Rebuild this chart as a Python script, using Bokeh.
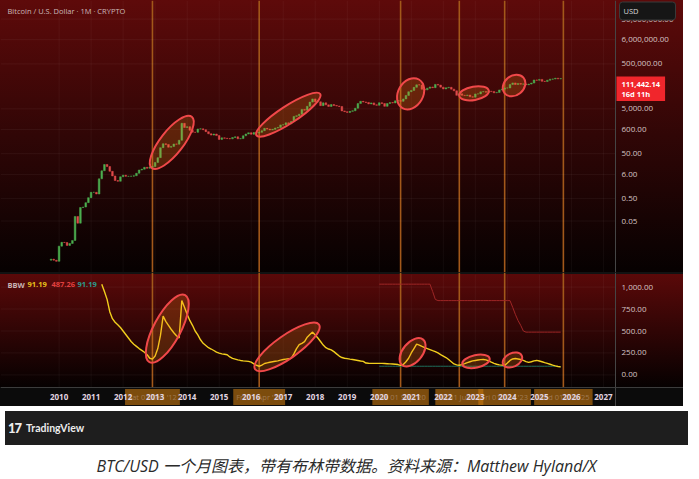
import numpy as np
import pandas as pd
from bokeh.plotting import figure
from bokeh.layouts import column
from bokeh.models import ColumnDataSource, Range1d, Span, Label, Div
from bokeh.core.properties import value
from bokeh.embed import file_html
from bokeh.resources import INLINE

# ---------------- data ----------------
first_month = "2009-10-01"
first_open = 0.0009
closes = [
    0.0010, 0.0009, 0.0008,
    0.0038, 0.0056, 0.0055, 0.0041, 0.0050, 0.0068, 0.080, 0.040, 0.20, 0.21, 0.33, 0.55,
    0.95, 0.95, 0.80, 3.8, 8.7, 16.5, 13.4, 8.2, 5.1, 3.2, 2.95, 4.7,
    5.5, 4.9, 4.9, 5.0, 5.2, 6.7, 9.4, 10.2, 12.4, 11.2, 12.6, 13.5,
    20.4, 33.4, 93, 139, 129, 97, 106, 135, 133, 198, 1130, 732,
    800, 550, 450, 447, 630, 640, 586, 480, 387, 338, 378, 320,
    217, 254, 244, 236, 230, 263, 284, 230, 236, 314, 377, 430,
    368, 437, 416, 448, 531, 673, 624, 575, 609, 700, 742, 963,
    970, 1190, 1080, 1350, 2300, 2480, 2875, 4700, 4340, 6470, 9950, 13860,
    10220, 10330, 6930, 9240, 7500, 6400, 7730, 7030, 6630, 6370, 4040, 3740,
    3460, 3850, 4100, 5320, 8570, 10820, 10080, 9630, 8290, 9200, 7570, 7190,
    9350, 8600, 6440, 8660, 9460, 9140, 11350, 11680, 10780, 13800, 19700, 28990,
    33100, 45200, 58800, 57800, 37300, 35000, 41500, 47100, 43800, 61300, 57000, 46300,
    38500, 43200, 45500, 37700, 31800, 19900, 23300, 20050, 19400, 20500, 17200, 16550,
    23100, 23150, 28480, 29250, 27220, 30480, 29230, 25940, 26970, 34650, 37720, 42270,
    42580, 61130, 71330, 60640, 67490, 62680, 64620, 58970, 63330, 70220, 96450, 93430,
    102400, 84350, 82550, 94200, 104600, 107100, 115700, 108200, 111442.14,
]

bbw_start = "2011-05-01"
bbw = [
    1033, 950, 860, 720, 640, 600, 571, 540, 500, 460, 420, 380,
    350, 325, 300, 280, 258, 230, 190, 180, 215, 300, 450, 670,
    610, 565, 520, 480, 445, 420, 846, 770, 690, 620, 565, 500,
    455, 400, 360, 335, 310, 295, 278, 260, 248, 240, 235, 230,
    205, 188, 180, 172, 165, 160, 157, 154, 145, 125, 110, 99,
    112, 130, 138, 145, 150, 155, 160, 168, 176, 180, 184, 188,
    240, 300, 345, 360, 380, 430, 460, 487.26, 455, 420, 380, 340,
    310, 295, 285, 265, 240, 215, 198, 190, 185, 180, 176, 170,
    164, 158, 154, 135, 133, 132, 132, 132, 132, 131, 130, 128,
    126, 124, 122, 118, 108, 120, 150, 190, 250, 300, 350, 340,
    325, 312, 300, 288, 276, 265, 250, 232, 215, 198, 175, 150,
    125, 115, 110, 118, 128, 140, 150, 160, 165, 170, 174, 176,
    172, 160, 145, 132, 122, 115, 112, 108, 135, 165, 182, 187,
    182, 176, 165, 152, 143, 150, 160, 165, 158, 150, 140, 132,
    122, 112, 103, 96, 91.19,
]

band_start = "2020-01-01"
bbw_highest = [1033] * 20 + [950, 860] + [846] * 28 + [770, 690, 620, 565, 500] + [487.26] * 14
bbw_lowest = [99] * 67 + [96, 91.19]

squeeze_dates = ["2012-12-01", "2016-04-01", "2020-09-01", "2022-07-01", "2023-12-01", "2025-10-01"]

year_ticks = list(range(2010, 2028))
price_ticks = [0.05, 0.5, 6, 50, 600, 5000, 500000, 6000000, 50000000]
bbw_ticks = [0, 250, 500, 750, 1000]

last_price = 111442.14
countdown = "16d 11h"
legend_values = ["91.19", "487.26", "91.19"]

# highlight ellipses: centre (decimal year, value), size in px, tilt in degrees
price_marks_t = [2013.52, 2017.16, 2020.98, 2022.96, 2024.21]
price_marks_v = [160, 2750, 23400, 24600, 54700]
price_marks_w = [65, 76, 33, 30, 24.5]
price_marks_h = [23, 17.5, 25, 13.5, 19.5]
price_marks_a = [52, 33, 60, 10, 40]

bbw_marks_t = [2013.38, 2017.12, 2021.04, 2023.02, 2024.16]
bbw_marks_v = [527, 319, 258, 154, 170]
bbw_marks_w = [76, 78, 33, 28, 20.5]
bbw_marks_h = [27, 23, 19.5, 12.5, 13.5]
bbw_marks_a = [62, 35, 50, 12, 25]

# ---------------- geometry & styling ----------------
W = 683
AXIS_W = 68
TOP_H = 272
BOT_FRAME_H = 113
XAXIS_H = 19
SEP_H = 2
BOT_H = SEP_H + BOT_FRAME_H + XAXIS_H
FONT = "Open Sans"
LABEL_COL = "#d6c4c4"
UP = "#4caf50"
DOWN = "#e04b4b"
ORANGE_LINE = "#a2581a"
GRID_COL = "#ffffff"
SEP_COL = "#454545"

X_START, AXIS_X = 2008.171, 2027.378
PX_PER_YEAR = (W - AXIS_W) / (AXIS_X - X_START)
X_END = X_START + W / PX_PER_YEAR
X_RANGE = Range1d(X_START, X_END)

P_LO, P_HI = 2.54e-4, 3.36e8
BBW_LO, BBW_HI = -143.0, 1143.0
K = BOT_FRAME_H / (BBW_HI - BBW_LO)
B_BOTTOM = BBW_LO - XAXIS_H / K
B_TOP = BBW_HI + SEP_H / K
ROW_MID = BBW_LO - (XAXIS_H / 2) / K


def dec_year(idx):
    return np.asarray(idx.year + (idx.month - 1) / 12.0, dtype=float)


months = pd.date_range(first_month, periods=len(closes), freq="MS")
t = dec_year(months)
closes_a = np.array(closes, dtype=float)
opens_a = np.array([first_open] + closes[:-1], dtype=float)
candles = ColumnDataSource(dict(
    t=t,
    hi=np.maximum(opens_a, closes_a),
    lo=np.minimum(opens_a, closes_a),
    color=np.where(closes_a >= opens_a, UP, DOWN),
))

bbw_t = dec_year(pd.date_range(bbw_start, periods=len(bbw), freq="MS"))
band_t = dec_year(pd.date_range(band_start, periods=len(bbw_highest), freq="MS"))
sq_idx = pd.to_datetime(squeeze_dates)
sq_t = dec_year(sq_idx)
sq_text = [d.strftime("%a %d %b '%y") for d in sq_idx]


def fmt(v):
    return f"{v:,.2f}"


def base_fig(height, y_range, **kw):
    f = figure(width=W, height=height, x_range=X_RANGE, y_range=y_range,
               x_axis_location=None, y_axis_location=None,
               output_backend="svg", toolbar_location=None, min_border=0,
               background_fill_alpha=0, border_fill_alpha=0, outline_line_color=None, **kw)
    for g in f.grid:
        g.visible = False
    return f


# ---------------- top panel: price ----------------
top = base_fig(TOP_H, Range1d(P_LO, P_HI), y_axis_type="log")
top.styles = {"background": "linear-gradient(180deg, #5e0a0a 0%, #300606 50%, #060101 100%)"}

top.segment(x0=X_START, x1=AXIS_X, y0=price_ticks, y1=price_ticks,
            line_color=GRID_COL, line_alpha=0.05, line_width=1)
top.segment(x0=year_ticks, x1=year_ticks, y0=P_LO, y1=P_HI,
            line_color=GRID_COL, line_alpha=0.045, line_width=1)
for ts in sq_t:
    top.add_layout(Span(location=ts, dimension="height", line_color=ORANGE_LINE,
                        line_width=1.6, level="underlay"))
top.add_layout(Span(location=AXIS_X, dimension="height", line_color=SEP_COL, line_width=1))

top.vbar(x="t", width=0.052, top="hi", bottom="lo", fill_color="color",
         line_color="color", line_width=0.5, source=candles)

top.ellipse(x=price_marks_t, y=price_marks_v, width=price_marks_w, height=price_marks_h,
            angle=price_marks_a, angle_units="deg", width_units="screen", height_units="screen",
            fill_color="#ff8a1a", fill_alpha=0.22, line_color="#f0484a", line_width=2)

top.text(x=AXIS_X, y=price_ticks, text=[fmt(v) for v in price_ticks], x_offset=6,
         text_align="left", text_baseline="middle", text_font=value(FONT),
         text_font_size="8px", text_color=LABEL_COL)

top.add_layout(Label(x=7, y=TOP_H - 10, x_units="screen", y_units="screen",
                     text="Bitcoin / U.S. Dollar · 1M · CRYPTO", text_font=FONT,
                     text_font_size="7.5px", text_color="#cbb8b8", text_baseline="middle"))
top.add_layout(Label(x=AXIS_X, x_offset=4, y=TOP_H - 10.5, x_units="data", y_units="screen",
                     text="USD", text_font=FONT, text_font_size="7.5px", text_color="#d8d8d8",
                     text_baseline="middle", background_fill_color="#161616",
                     border_line_color="#3a3a3a", border_radius=3,
                     padding=dict(left=4, right=37, top=4, bottom=4)))
top.add_layout(Label(x=AXIS_X, x_offset=1, y=last_price, y_offset=2, x_units="data",
                     y_units="data", text=f"{fmt(last_price)}\n{countdown}", text_font=FONT,
                     text_font_size="7.5px", text_font_style="bold", text_color="#ffffff",
                     text_baseline="top", text_align="left", text_line_height=1.05,
                     background_fill_color="#f0262c",
                     padding=dict(left=5, right=5, top=2, bottom=2)))

# ---------------- lower panel: Bollinger Band Width ----------------
bot = base_fig(BOT_H, Range1d(B_BOTTOM, B_TOP))
fb = SEP_H + BOT_FRAME_H
bot.styles = {"background": (
    f"linear-gradient(180deg, #121212 0px, #121212 {SEP_H}px, #5a0909 {SEP_H}px, "
    f"#060101 {fb}px, #0b0b0b {fb}px, #0b0b0b 100%)")}

bot.segment(x0=X_START, x1=AXIS_X, y0=bbw_ticks, y1=bbw_ticks,
            line_color=GRID_COL, line_alpha=0.05, line_width=1)
bot.segment(x0=year_ticks, x1=year_ticks, y0=BBW_LO, y1=BBW_HI,
            line_color=GRID_COL, line_alpha=0.045, line_width=1)
sq_r = bot.segment(x0=sq_t, x1=sq_t, y0=BBW_LO, y1=B_TOP,
                   line_color=ORANGE_LINE, line_width=1.6)
sq_r.level = "underlay"
bot.add_layout(Span(location=AXIS_X, dimension="height", line_color=SEP_COL, line_width=1))
bot.add_layout(Span(location=BBW_LO, dimension="width", line_color="#3c3c3c", line_width=1))

bot.line(band_t, bbw_highest, line_color="#9e2626", line_width=1)
bot.line(band_t, bbw_lowest, line_color="#1f6f5c", line_width=1)
bot.line(bbw_t, bbw, line_color="#f2cf1d", line_width=1.4)

bot.ellipse(x=bbw_marks_t, y=bbw_marks_v, width=bbw_marks_w, height=bbw_marks_h,
            angle=bbw_marks_a, angle_units="deg", width_units="screen", height_units="screen",
            fill_color="#ff8a1a", fill_alpha=0.22, line_color="#f0484a", line_width=2)

bot.text(x=AXIS_X, y=bbw_ticks, text=[fmt(v) for v in bbw_ticks], x_offset=6,
         text_align="left", text_baseline="middle", text_font=value(FONT),
         text_font_size="8px", text_color=LABEL_COL)

# time-axis markers of the squeeze dates, with the year labels over them
for ts, txt in zip(sq_t, sq_text):
    bot.add_layout(Label(x=ts, y=XAXIS_H / 2, x_units="data", y_units="screen", text=txt,
                         text_font=FONT, text_font_size="7.5px", text_color="#a07a52",
                         text_align="center", text_baseline="middle",
                         background_fill_color="#c8780f", background_fill_alpha=0.6,
                         padding=dict(left=3, right=3, top=3, bottom=3)))
yr = bot.text(x=year_ticks, y=ROW_MID, text=[str(y) for y in year_ticks],
              text_align="center", text_baseline="middle", text_font=value(FONT),
              text_font_size="8px", text_font_style="bold", text_color="#e2d6e2")
yr.level = "overlay"

leg_y = BOT_FRAME_H + XAXIS_H - 10
for x0, txt, col in zip([7, 27, 51, 77], ["BBW"] + legend_values,
                        ["#c8b4b4", "#e8c21c", "#e0403f", "#2a9d8f"]):
    bot.add_layout(Label(x=x0, y=leg_y, x_units="screen", y_units="screen", text=txt,
                         text_font=FONT, text_font_size="7.5px", text_font_style="bold",
                         text_color=col, text_baseline="middle"))

# ---------------- footer ----------------
tv = Div(width=W, height=34, styles={"background": "#1e1e1e"},
         text=('<div style="display:flex;align-items:center;height:34px;padding-left:3px;'
               'color:#ececec;font-family:Lato, sans-serif;">'
               '<span style="font-weight:900;font-size:13px;letter-spacing:-1px;margin-right:5px;">17</span>'
               '<span style="font-weight:700;font-size:10.5px;">TradingView</span></div>'))
cap = Div(width=W, height=23, styles={"background": "#ffffff"},
          text=('<div style="width:683px;text-align:center;font-style:italic;'
                'font-family:\'Open Sans\', \'Noto Sans CJK SC\', sans-serif;font-size:16px;'
                'color:#2a2a2a;line-height:23px;">'
                'BTC/USD 一个月图表，带有布林带数据。资料来源：Matthew Hyland/X</div>'))

layout = column(top, bot, tv, cap, spacing=0)
open("out.html", "w").write(file_html(layout, INLINE))
